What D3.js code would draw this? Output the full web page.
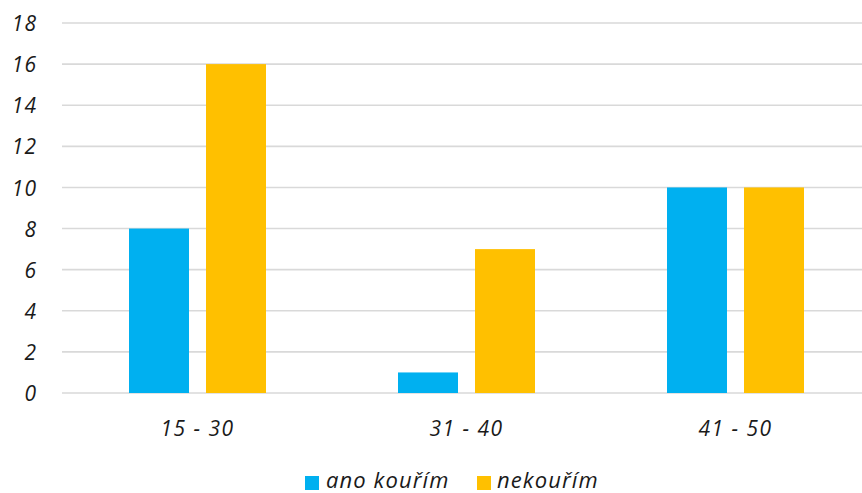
<!DOCTYPE html>
<html>
<head>
<meta charset="utf-8">
<script src="https://cdn.jsdelivr.net/npm/d3@7"></script>
<style>
  html, body { margin: 0; padding: 0; background: #fff; }
  svg { display: block; }
  text { font-family: "Open Sans", sans-serif; font-style: italic; fill: #1a1a1a; }
</style>
</head>
<body>
<svg id="chart" width="862" height="493"></svg>
<script>
const categories = ["15 - 30", "31 - 40", "41 - 50"];
const seriesNames = ["ano kouřím", "nekouřím"];
const smokers = [8, 1, 10];
const nonSmokers = [16, 7, 10];
const yTicks = [0, 2, 4, 6, 8, 10, 12, 14, 16, 18];
const colors = ["#00b0f0", "#ffc000"];

const svg = d3.select("#chart");
const W = 862;
const plotLeft = 62, plotRight = 870, plotTop = 23, plotBottom = 393;
const fontSize = 21;

const x = d3.scaleBand().domain(categories).range([plotLeft + 1, plotRight]).paddingInner(0).paddingOuter(0);
const y = d3.scaleLinear().domain([0, 18]).range([plotBottom, plotTop]);

// gridlines
svg.append("g").selectAll("line").data(yTicks).join("line")
  .attr("x1", plotLeft).attr("x2", W)
  .attr("y1", d => y(d)).attr("y2", d => y(d))
  .attr("stroke", "#d9d9d9").attr("stroke-width", 1.6);

// y axis labels
const yAxis = d3.axisLeft(y).tickValues(yTicks).tickSize(0).tickPadding(0);
const yg = svg.append("g").attr("transform", "translate(37,0)").call(yAxis);
yg.select(".domain").remove();
yg.selectAll("text").attr("font-size", fontSize).attr("font-family", "Open Sans, sans-serif")
  .attr("font-style", "italic").attr("fill", "#1a1a1a").attr("dy", "0.36em")
  .attr("letter-spacing", 1);

// bars
const barW = 60, gap = 17;
const groupW = barW * 2 + gap;
const series = [smokers, nonSmokers];
series.forEach((vals, si) => {
  svg.append("g").selectAll("rect").data(categories).join("rect")
    .attr("x", (c) => x(c) + x.bandwidth() / 2 - groupW / 2 + si * (barW + gap))
    .attr("y", (c, i) => y(vals[i]))
    .attr("width", barW)
    .attr("height", (c, i) => y(0) - y(vals[i]))
    .attr("fill", colors[si]);
});

// x axis labels
const xAxis = d3.axisBottom(x).tickSize(0).tickPadding(0);
const xg = svg.append("g").attr("transform", "translate(0,428)").call(xAxis);
xg.select(".domain").remove();
xg.selectAll("text").attr("font-size", fontSize).attr("font-family", "Open Sans, sans-serif")
  .attr("font-style", "italic").attr("fill", "#1a1a1a").attr("dy", "0.36em")
  .attr("letter-spacing", 1.5);

// legend
const legendItems = [
  { name: seriesNames[0], color: colors[0], sx: 305, tx: 326 },
  { name: seriesNames[1], color: colors[1], sx: 477, tx: 497 }
];
const lg = svg.append("g");
legendItems.forEach(d => {
  lg.append("rect").attr("x", d.sx).attr("y", 476).attr("width", 14).attr("height", 14).attr("fill", d.color);
  lg.append("text").attr("x", d.tx).attr("y", 488)
    .attr("font-size", 22).attr("letter-spacing", 1.1).text(d.name);
});
</script>
</body>
</html>
